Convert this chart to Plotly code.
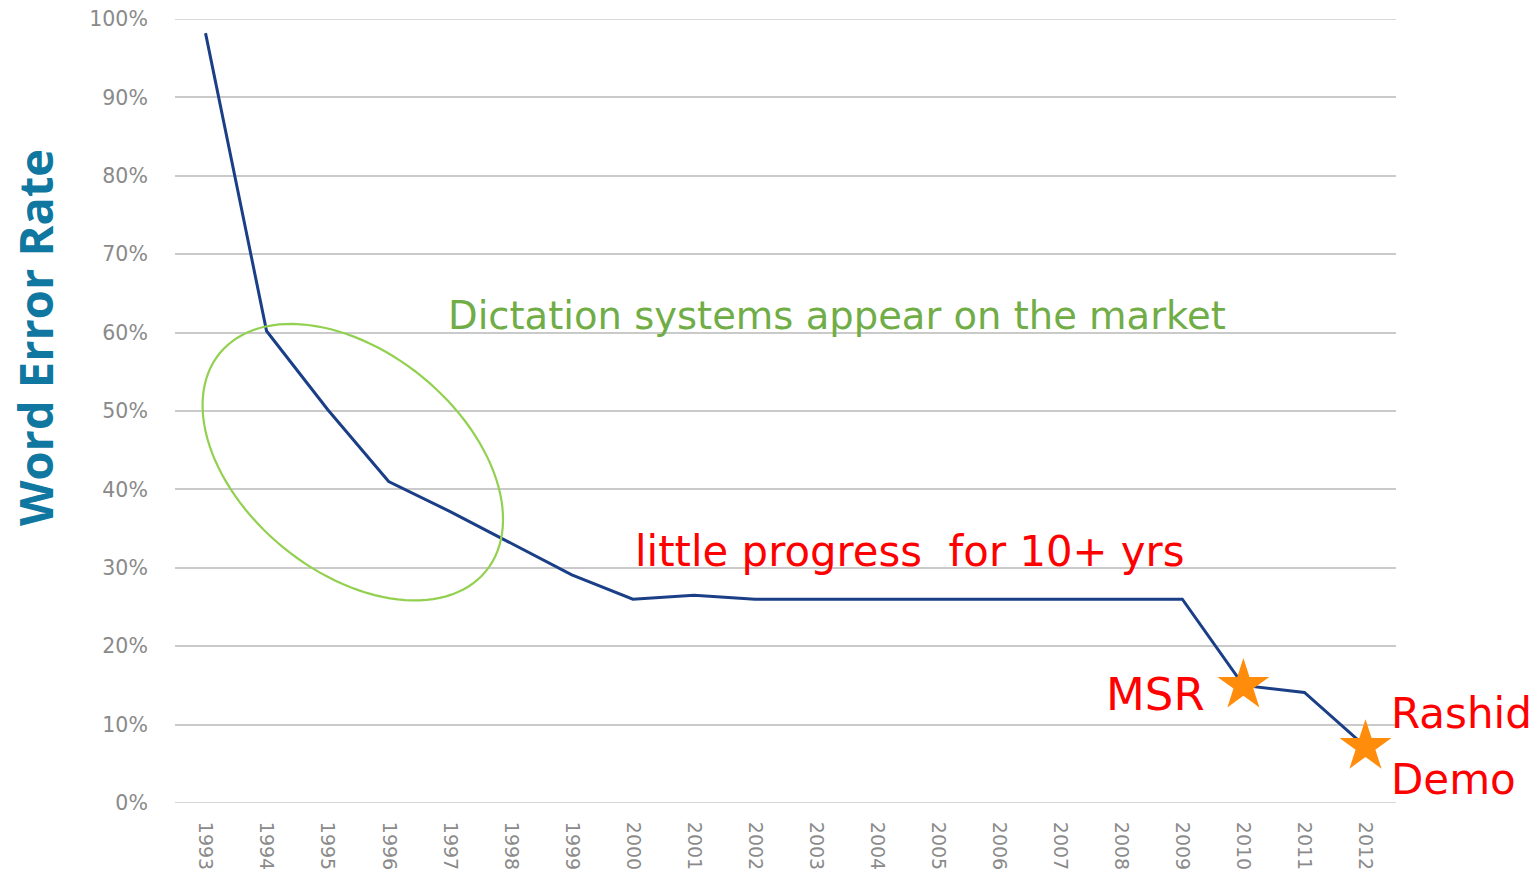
import numpy as np
import plotly.graph_objects as go

# ---- data ----
years = [str(y) for y in range(1993, 2013)]
wer = [98.2, 60.2, 50.2, 41.0, 37.2, 33.2, 29.1, 26.0, 26.5, 26.0,
       26.0, 26.0, 26.0, 26.0, 26.0, 26.0, 26.0, 15.0, 14.1, 7.2]
star_years = ["2010", "2012"]
star_vals = [15.0, 7.2]
ytick_vals = [0, 10, 20, 30, 40, 50, 60, 70, 80, 90, 100]
ytick_text = [f"{v}%" for v in ytick_vals]

W, H = 1539, 875
L, R, T, B = 175, 1539 - 1396, 19, 875 - 803
PW, PH = W - L - R, H - T - B


def px_to_paper(px, py):
    return (px - L) / PW, (H - B - py) / PH


fig = go.Figure()
fig.add_trace(go.Scatter(x=years, y=wer, mode="lines",
                         line=dict(color="#1B3F87", width=3),
                         showlegend=False, hoverinfo="x+y"))
fig.add_trace(go.Scatter(x=star_years, y=star_vals, mode="markers",
                         marker=dict(symbol="star", size=39, color="#FF8C0A",
                                     line=dict(width=0)),
                         showlegend=False))

# green ellipse (annotation highlight)
cx, cy, a, b, th = 352.8, 462.2, 172.0, 110.0, np.deg2rad(39.3)
t = np.linspace(0, 2 * np.pi, 121)
ex = cx + a * np.cos(th) * np.cos(t) - b * np.sin(th) * np.sin(t)
ey = cy + a * np.sin(th) * np.cos(t) + b * np.cos(th) * np.sin(t)
pts = [px_to_paper(x, y) for x, y in zip(ex, ey)]
path = "M " + " L ".join(f"{x:.5f},{y:.5f}" for x, y in pts) + " Z"
fig.add_shape(type="path", path=path, xref="paper", yref="paper",
              line=dict(color="#92D050", width=2.2))


def ann(text, px, py, size, color, xanchor="left", family="DejaVu Sans", angle=0):
    x, y = px_to_paper(px, py)
    fig.add_annotation(text=text, x=x, y=y, xref="paper", yref="paper",
                       xanchor=xanchor, yanchor="middle", showarrow=False,
                       textangle=angle,
                       font=dict(family=family, size=size, color=color))


ann("Dictation systems appear on the market", 446, 315, 38.5, "#70AD47")
ann("little progress  for 10+ yrs", 633, 551, 41.8, "#FF0000")
ann("MSR", 1104, 694, 45, "#FF0000")
ann("Rashid", 1389, 713, 42, "#FF0000")
ann("Demo", 1389, 779, 42, "#FF0000")
ann("<b>Word Error Rate</b>", 35, 338, 47, "#0F77A0", xanchor="center",
    family="Open Sans", angle=-90)

fig.update_layout(
    width=W, height=H,
    margin=dict(l=L, r=R, t=T, b=B, pad=0, autoexpand=False),
    paper_bgcolor="white", plot_bgcolor="white",
    showlegend=False,
    xaxis=dict(type="category", range=[-0.5, 19.5], showgrid=False,
               showline=False, zeroline=False, automargin=False,
               ticks="outside", ticklen=14, tickcolor="rgba(0,0,0,0)",
               tickangle=90,
               tickfont=dict(family="DejaVu Sans", size=19, color="#8A8A8A")),
    yaxis=dict(range=[0, 100], tickvals=ytick_vals, ticktext=ytick_text,
               showgrid=True, gridcolor="#CACACA", gridwidth=1.6,
               zeroline=False, showline=False, automargin=False,
               ticks="outside", ticklen=22, tickcolor="rgba(0,0,0,0)",
               tickfont=dict(family="DejaVu Sans", size=20.5, color="#8A8A8A")),
)
for yv in (ytick_vals[0], ytick_vals[-1]):
    fig.add_shape(type="line", xref="paper", yref="y", x0=0, x1=1, y0=yv, y1=yv,
                  line=dict(color="#CACACA", width=1.6), layer="below")

fig.write_html("out.html", config={"displayModeBar": False},
               post_script="document.body.style.margin='0';"
                           "document.body.style.overflow='hidden';")
